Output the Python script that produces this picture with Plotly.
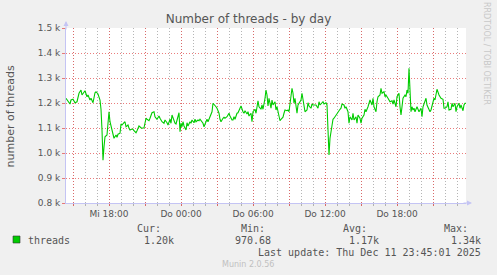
import pandas as pd
import plotly.graph_objects as go

# ---------------- data ----------------
start_time = "2025-12-10 14:25"
end_time = "2025-12-11 23:45"

minutes_since_start = [
    0, 10, 20, 25, 35, 45, 55, 65, 75, 80, 90, 95, 105, 110, 120, 125, 135, 145, 150, 160,
    170, 175, 180, 185, 190, 195, 205, 210, 215, 220, 230, 235, 240, 250, 255, 260, 270, 275,
    280, 290, 295, 300, 310, 315, 320, 330, 335, 340, 350, 355, 365, 375, 380, 390, 400, 405,
    415, 420, 430, 440, 445, 455, 465, 470, 480, 490, 495, 505, 510, 520, 525, 530, 540, 545,
    550, 560, 565, 570, 575, 580, 585, 590, 600, 605, 610, 620, 625, 630, 640, 645, 650, 660,
    665, 670, 680, 685, 690, 700, 705, 710, 720, 725, 730, 735, 745, 750, 755, 765, 770, 775,
    785, 790, 795, 805, 810, 815, 820, 830, 835, 840, 845, 855, 860, 870, 875, 885, 890, 895,
    905, 910, 915, 925, 930, 935, 945, 950, 955, 960, 965, 975, 980, 985, 995, 1000, 1005, 1010,
    1015, 1025, 1030, 1035, 1045, 1050, 1055, 1065, 1070, 1075, 1085, 1090, 1095, 1105, 1110,
    1115, 1125, 1130, 1135, 1140, 1145, 1155, 1160, 1165, 1175, 1180, 1185, 1190, 1195, 1205,
    1210, 1215, 1225, 1230, 1235, 1245, 1250, 1260, 1265, 1270, 1280, 1285, 1290, 1300, 1305,
    1310, 1315, 1320, 1325, 1330, 1335, 1340, 1350, 1355, 1360, 1370, 1375, 1380, 1390, 1395,
    1400, 1410, 1415, 1420, 1430, 1435, 1440, 1450, 1455, 1460, 1470, 1475, 1480, 1490, 1495,
    1500, 1510, 1515, 1520, 1530, 1535, 1540, 1550, 1555, 1560, 1570, 1575, 1580, 1590, 1595,
    1600, 1610, 1615, 1620, 1630, 1635, 1640, 1650, 1655, 1665, 1670, 1675, 1680, 1685, 1695,
    1700, 1705, 1710, 1715, 1720, 1725, 1730, 1735, 1740, 1745, 1755, 1760, 1765, 1775, 1780,
    1785, 1795, 1800, 1805, 1815, 1820, 1825, 1835, 1840, 1845, 1850, 1855, 1865, 1870, 1875,
    1885, 1890, 1895, 1905, 1910, 1915, 1925, 1930, 1935, 1945, 1950, 1955, 1965, 1970, 1975,
    1985, 1990, 1995, 2000,
]

threads = [
    1219, 1205, 1196, 1212, 1215, 1201, 1205, 1239, 1252, 1232, 1245, 1249, 1225, 1232, 1212, 1219, 1201, 1241, 1245, 1236,
    1212, 1175, 1092, 971, 1025, 1065, 1072, 1119, 1165, 1125, 1085, 1079, 1059, 1072, 1063, 1075, 1079, 1116,
    1112, 1121, 1125, 1105, 1112, 1099, 1092, 1096, 1095, 1089, 1081, 1089, 1108, 1101, 1099, 1101, 1139, 1135,
    1129, 1139, 1161, 1165, 1145, 1135, 1148, 1139, 1125, 1119, 1132, 1121, 1112, 1135, 1119, 1152, 1125, 1119,
    1116, 1145, 1161, 1085, 1119, 1105, 1125, 1108, 1092, 1121, 1108, 1125, 1119, 1132, 1121, 1135, 1125, 1132,
    1129, 1135, 1125, 1119, 1105, 1132, 1135, 1125, 1145, 1152, 1165, 1199, 1192, 1185, 1179, 1159, 1135, 1125,
    1139, 1143, 1139, 1145, 1152, 1159, 1148, 1132, 1132, 1145, 1135, 1159, 1161, 1179, 1188, 1165, 1159, 1169,
    1156, 1165, 1148, 1159, 1125, 1165, 1175, 1159, 1179, 1209, 1185, 1175, 1192, 1175, 1219, 1252, 1232, 1188,
    1219, 1179, 1212, 1192, 1205, 1172, 1185, 1145, 1129, 1135, 1143, 1159, 1172, 1169, 1172,
    1165, 1219, 1259, 1239, 1199, 1219, 1159, 1192, 1199, 1212, 1239, 1212, 1179, 1165, 1172,
    1201, 1188, 1179, 1196, 1192, 1192, 1192, 1179, 1205, 1192, 1199, 1205, 1196, 1201, 1192,
    1092, 992, 1059, 1092, 1119, 1135, 1139, 1152, 1159, 1165, 1175, 1179, 1196, 1192, 1179,
    1185, 1165, 1119, 1145, 1132, 1159, 1132, 1145, 1119, 1152, 1139, 1119, 1139, 1152, 1175,
    1165, 1185, 1199, 1212, 1192, 1219, 1185, 1165, 1205, 1225, 1232, 1259, 1239, 1245, 1225,
    1232, 1219, 1212, 1205, 1209, 1196, 1212, 1185, 1225, 1239, 1185, 1152, 1185, 1219, 1232,
    1225, 1252, 1239, 1339, 1239, 1165, 1185, 1172, 1179, 1165, 1185, 1172, 1165, 1179, 1145,
    1185, 1205, 1219, 1192, 1172, 1165, 1172, 1205, 1219, 1212, 1232, 1255, 1232, 1223, 1219,
    1215, 1179, 1179, 1185, 1205, 1172, 1175, 1199, 1185, 1199, 1165, 1185, 1199, 1179, 1192,
    1169, 1192, 1199, 1199,
]

x_tick_times = ["2025-12-10 15:00", "2025-12-10 18:00", "2025-12-10 21:00", "2025-12-11 00:00",
                "2025-12-11 03:00", "2025-12-11 06:00", "2025-12-11 09:00", "2025-12-11 12:00",
                "2025-12-11 15:00", "2025-12-11 18:00", "2025-12-11 21:00"]
x_tick_labels = ["", "Mi 18:00", "", "Do 00:00", "", "Do 06:00", "", "Do 12:00", "", "Do 18:00", ""]

y_tick_values = [800, 900, 1000, 1100, 1200, 1300, 1400, 1500]
y_tick_labels = ["0.8 k", "0.9 k", "1.0 k", "1.1 k", "1.2 k", "1.3 k", "1.4 k", "1.5 k"]

legend_stats = {"Cur:": "1.20k", "Min:": "970.68", "Avg:": "1.17k", "Max:": "1.34k"}

# ---------------- figure ----------------
t0 = pd.Timestamp(start_time)
times = [t0 + pd.Timedelta(minutes=m) for m in minutes_since_start]

W, H = 497, 275
L, R, T, B = 66, 31, 28, 72
PW, PH = W - L - R, H - T - B

def px(x):
    return (x - L) / PW

def py(y):
    return (T + PH - y) / PH

RED = "rgba(228,80,80,0.75)"
GRAY = "rgba(150,150,150,0.7)"
AXIS = "#c4c4f4"
TXT = "#555555"

fig = go.Figure()
fig.add_trace(go.Scatter(x=times, y=threads, mode="lines",
                         line=dict(color="#00cc00", width=1.1), hoverinfo="skip"))

fig.update_layout(
    width=W, height=H,
    margin=dict(l=L, r=R, t=T, b=B),
    paper_bgcolor="#f0f0f0", plot_bgcolor="#ffffff",
    showlegend=False,
    font=dict(family="DejaVu Sans", size=9, color=TXT),
    title=dict(text="Number of threads - by day", x=0.5, xanchor="center",
               y=1 - 19 / H, yanchor="middle",
               font=dict(family="DejaVu Sans", size=12, color=TXT)),
)

fig.update_xaxes(
    type="date", range=[start_time, end_time],
    tickmode="array", tickvals=x_tick_times, ticktext=x_tick_labels,
    showgrid=True, gridcolor=RED, griddash="1px,2px", gridwidth=1,
    ticks="outside", ticklen=2, tickcolor=RED,
    tickfont=dict(family="DejaVu Sans", size=9, color=TXT),
    showline=True, linecolor=AXIS, linewidth=1,
    zeroline=False,
    minor=dict(dtick=3600000, tick0="2025-12-10 15:00", showgrid=True,
               gridcolor=GRAY, griddash="1px,2px", gridwidth=1,
               ticks="outside", ticklen=2, tickcolor=GRAY),
)
fig.update_yaxes(
    range=[800, 1500], tickmode="array", tickvals=y_tick_values, ticktext=y_tick_labels,
    showgrid=True, gridcolor=RED, griddash="1px,2px", gridwidth=1,
    ticks="outside", ticklen=3, tickcolor=RED,
    tickfont=dict(family="DejaVu Sans", size=9, color=TXT),
    showline=True, linecolor=AXIS, linewidth=1, zeroline=False,
)

ann = []
# axis arrows
ann.append(dict(xref="paper", yref="paper", x=px(472), y=0, ax=-10, ay=0, text="",
                showarrow=True, arrowhead=2, arrowsize=1, arrowwidth=1, arrowcolor=AXIS))
ann.append(dict(xref="paper", yref="paper", x=0, y=py(21), ax=0, ay=10, text="",
                showarrow=True, arrowhead=2, arrowsize=1, arrowwidth=1, arrowcolor=AXIS))
# y axis title
ann.append(dict(xref="paper", yref="paper", x=px(10), y=py(115.5), text="number of threads",
                textangle=-90, showarrow=False, xanchor="center", yanchor="middle",
                font=dict(family="DejaVu Sans", size=11, color=TXT)))
# rrdtool watermark
ann.append(dict(xref="paper", yref="paper", x=px(487), y=py(53), text="RRDTOOL / TOBI OETIKER",
                textangle=90, showarrow=False, xanchor="center", yanchor="middle",
                font=dict(family="DejaVu Sans", size=8, color="#c8c8c8")))

MONO = dict(family="DejaVu Sans Mono", size=10, color=TXT)
label_right = [163, 267, 369, 470]
value_right = [176, 273, 381, 483]
for (lab, val), lr, vr in zip(legend_stats.items(), label_right, value_right):
    ann.append(dict(xref="paper", yref="paper", x=px(lr), y=py(228), text=lab, showarrow=False,
                    xanchor="right", yanchor="middle", font=MONO))
    ann.append(dict(xref="paper", yref="paper", x=px(vr), y=py(240), text=val, showarrow=False,
                    xanchor="right", yanchor="middle", font=MONO))
ann.append(dict(xref="paper", yref="paper", x=px(26), y=py(240), text="threads", showarrow=False,
                xanchor="left", yanchor="middle", font=MONO))
ann.append(dict(xref="paper", yref="paper", x=px(483), y=py(252),
                text="Last update: Thu Dec 11 23:45:01 2025", showarrow=False,
                xanchor="right", yanchor="middle", font=MONO))
ann.append(dict(xref="paper", yref="paper", x=px(248), y=py(264), text="Munin 2.0.56",
                showarrow=False, xanchor="center", yanchor="middle",
                font=dict(family="DejaVu Sans", size=8, color="#c0c0c0")))
fig.update_layout(annotations=ann)

# legend colour box
fig.add_shape(type="rect", xref="paper", yref="paper",
              x0=px(13), x1=px(20), y0=py(243), y1=py(236),
              fillcolor="#00cc00", line=dict(color="#333333", width=0.6))

fig.write_html("out.html")
